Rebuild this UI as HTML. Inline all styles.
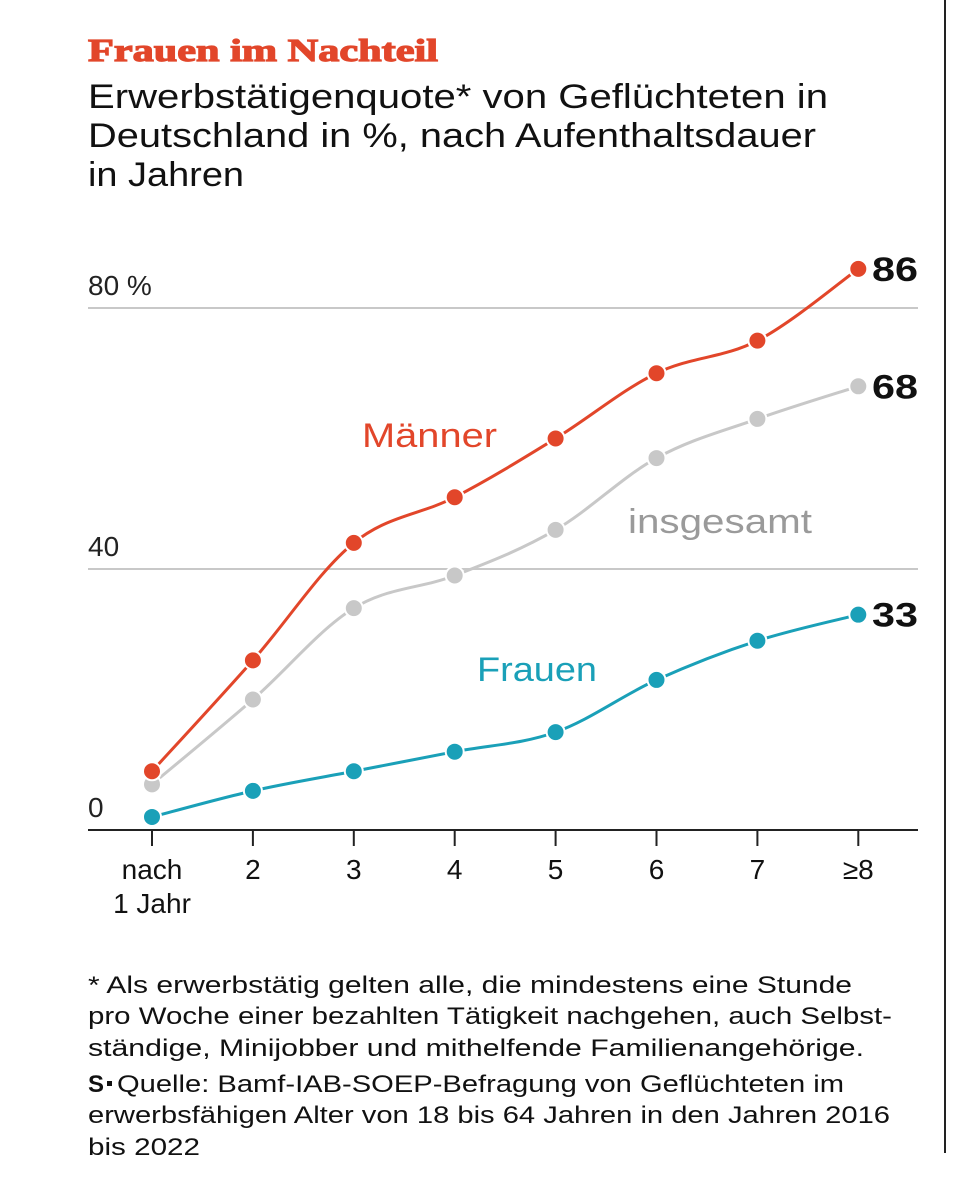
<!DOCTYPE html>
<html><head><meta charset="utf-8"><style>
html,body{margin:0;padding:0;background:#fff;}
svg{display:block;font-family:"Liberation Sans",sans-serif;}
</style></head><body>
<svg id="c" width="972" height="1200" viewBox="0 0 972 1200">
<line x1="945" y1="0" x2="945" y2="1153" stroke="#222" stroke-width="2"/>
<text x="88" y="61" font-size="32" font-weight="bold" font-family="Liberation Serif,serif" fill="#e2462a" stroke="#e2462a" stroke-width="1.2" textLength="350" lengthAdjust="spacingAndGlyphs">Frauen im Nachteil</text>
<g font-size="34" fill="#111">
<text x="88" y="108" textLength="740" lengthAdjust="spacingAndGlyphs">Erwerbstätigenquote* von Geflüchteten in</text>
<text x="88" y="147" textLength="728" lengthAdjust="spacingAndGlyphs">Deutschland in %, nach Aufenthaltsdauer</text>
<text x="88" y="186" textLength="156" lengthAdjust="spacingAndGlyphs">in Jahren</text>
</g>
<g id="grid"></g>
<g id="series"></g>
<g font-size="24" fill="#111">
<text x="88" y="993" textLength="764" lengthAdjust="spacingAndGlyphs">* Als erwerbstätig gelten alle, die mindestens eine Stunde</text>
<text x="88" y="1024" textLength="804" lengthAdjust="spacingAndGlyphs">pro Woche einer bezahlten Tätigkeit nachgehen, auch Selbst-</text>
<text x="88" y="1056" textLength="776" lengthAdjust="spacingAndGlyphs">ständige, Minijobber und mithelfende Familienangehörige.</text>
<text x="88" y="1092" font-weight="bold" font-size="24">S</text>
<rect x="107" y="1081" width="5" height="5" fill="#111"/>
<text x="117" y="1092" textLength="727" lengthAdjust="spacingAndGlyphs">Quelle: Bamf-IAB-SOEP-Befragung von Geflüchteten im</text>
<text x="88" y="1123" textLength="802" lengthAdjust="spacingAndGlyphs">erwerbsfähigen Alter von 18 bis 64 Jahren in den Jahren 2016</text>
<text x="88" y="1155" textLength="112" lengthAdjust="spacingAndGlyphs">bis 2022</text>
</g>
</svg>
<script>
const categories=["nach|1 Jahr","2","3","4","5","6","7","≥8"];
const maenner=[9,26,44,51,60,70,75,86];
const insgesamt=[7,20,34,39,46,57,63,68];
const frauen=[2,6,9,12,15,23,29,33];
const yTicks=[0,40,80];
const yTickLabels=["0","40","80 %"];
const NS="http://www.w3.org/2000/svg";
const x=i=>152+i*100.9;
const y=v=>830-v*6.525;
function mk(t,a,p){const e=document.createElementNS(NS,t);for(const k in a)e.setAttribute(k,a[k]);p.appendChild(e);return e;}
const grid=document.getElementById('grid'),ser=document.getElementById('series');
yTicks.forEach((t,i)=>{
 if(t>0){const l=mk('line',{x1:88,x2:918,y1:y(t),y2:y(t),stroke:'#c8c8c8','stroke-width':2},grid);
 
 }
 const tx=mk('text',{x:88,y:y(t)-13,'font-size':28,fill:'#222'},grid);tx.textContent=yTickLabels[i];
 
 
});
const ax=mk('line',{x1:88,x2:918,y1:830,y2:830,stroke:'#222','stroke-width':2},grid);


categories.forEach((c,i)=>{
 const tk=mk('line',{x1:x(i),x2:x(i),y1:830,y2:846,stroke:'#222','stroke-width':2},grid);
 
 
 c.split('|').forEach((s,j)=>{const t=mk('text',{x:x(i),y:879+j*34,'font-size':28,fill:'#111','text-anchor':'middle'},grid);t.textContent=s;
 
 });
});
function path(vals){const p=vals.map((v,i)=>[x(i),y(v)]);let d='M'+p[0];
 for(let i=0;i<p.length-1;i++){const p0=p[Math.max(0,i-1)],p1=p[i],p2=p[i+1],p3=p[Math.min(p.length-1,i+2)];const k=0.17;
 d+=` C${p1[0]+(p2[0]-p0[0])*k},${p1[1]+(p2[1]-p0[1])*k} ${p2[0]-(p3[0]-p1[0])*k},${p2[1]-(p3[1]-p1[1])*k} ${p2[0]},${p2[1]}`;}return d;}
function draw(vals,col,lcol,name,label,lx,ly,lw){
 const g=mk('g',{},ser);
 
 
 mk('path',{d:path(vals),fill:'none',stroke:col,'stroke-width':3},g);
 vals.forEach((v,i)=>{const c=mk('circle',{cx:x(i),cy:y(v),r:9,fill:col,stroke:'#fff','stroke-width':2},g);
 
 });
 const t=mk('text',{x:lx,y:ly,'font-size':34,fill:lcol,textLength:lw,lengthAdjust:'spacingAndGlyphs'},g);t.textContent=label;
 
 
 const n=vals.length-1;const e=mk('text',{x:872,y:y(vals[n])+12,'font-size':34,'font-weight':'bold',fill:'#111',textLength:46,lengthAdjust:'spacingAndGlyphs'},g);e.textContent=vals[n];
 
 
}
draw(insgesamt,'#c8c8c8','#9a9a9a','insgesamt','insgesamt',628,533,184);
draw(maenner,'#e2462a','#e2462a','maenner','Männer',362,447,135);
draw(frauen,'#1aa0b8','#1aa0b8','frauen','Frauen',477,681,120);
</script>
</body></html>
